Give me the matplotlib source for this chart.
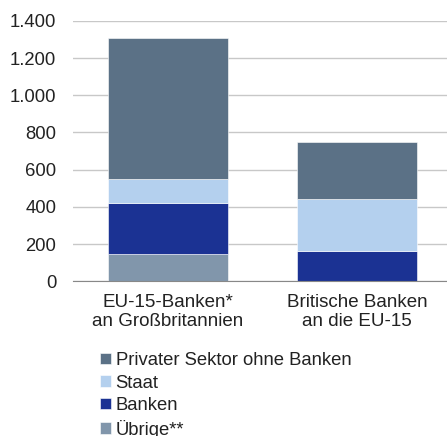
import matplotlib
matplotlib.use("Agg")
from matplotlib import pyplot as plt
from matplotlib.ticker import FuncFormatter
import numpy as np

plt.rcParams['font.family'] = ['Liberation Sans', 'DejaVu Sans']

categories = ["EU-15-Banken*\nan Großbritannien", "Britische Banken\nan die EU-15"]
series_names = ["Übrige**", "Banken", "Staat", "Privater Sektor ohne Banken"]
uebrige = [148, 0]
banken = [275, 165]
staat = [127, 276]
privat = [757, 308]
colors = ["#8196ab", "#1b3293", "#b4d0ee", "#5b7186"]

fig = plt.figure(figsize=(4.47, 4.36), dpi=100)
ax = fig.add_axes([73 / 447, 0.355, 1 - 73 / 447, 0.597])

x = np.arange(len(categories))
bottom = np.zeros(len(categories))
bars = []
for name, vals, col in zip(series_names, [uebrige, banken, staat, privat], colors):
    b = ax.bar(x, vals, width=0.633, bottom=bottom, color=col, label=name,
               edgecolor="white", linewidth=0.4)
    bars.append(b)
    bottom += np.array(vals)

ax.set_xlim(-0.50, 1.474)
ax.set_ylim(0, 1400)
ax.set_yticks(range(0, 1401, 200))
ax.yaxis.set_major_formatter(FuncFormatter(lambda v, p: f"{int(v):,}".replace(",", ".")))
ax.set_xticks(x)
ax.set_xticklabels(categories, fontsize=13.5, color="#222222", linespacing=1.2)
ax.tick_params(axis="y", length=0, labelsize=13.3, labelcolor="#222222", pad=12)
ax.tick_params(axis="x", length=0, pad=9)
ax.grid(axis="y", color="#c8c8c8", linewidth=1)
ax.set_axisbelow(True)
for s in ["top", "right", "left"]:
    ax.spines[s].set_visible(False)
ax.spines["bottom"].set_color("#888888")

handles = bars[::-1]
labels = series_names[::-1]
fig.legend(handles, labels, loc="upper left", bbox_to_anchor=(100 / 447, 1 - 352 / 436),
           frameon=False, fontsize=13.3, handlelength=0.6, handleheight=0.6,
           handletextpad=0.25, labelspacing=0.3, borderaxespad=0, borderpad=0,
           labelcolor="#222222")

fig.savefig("out.png", dpi=100)
